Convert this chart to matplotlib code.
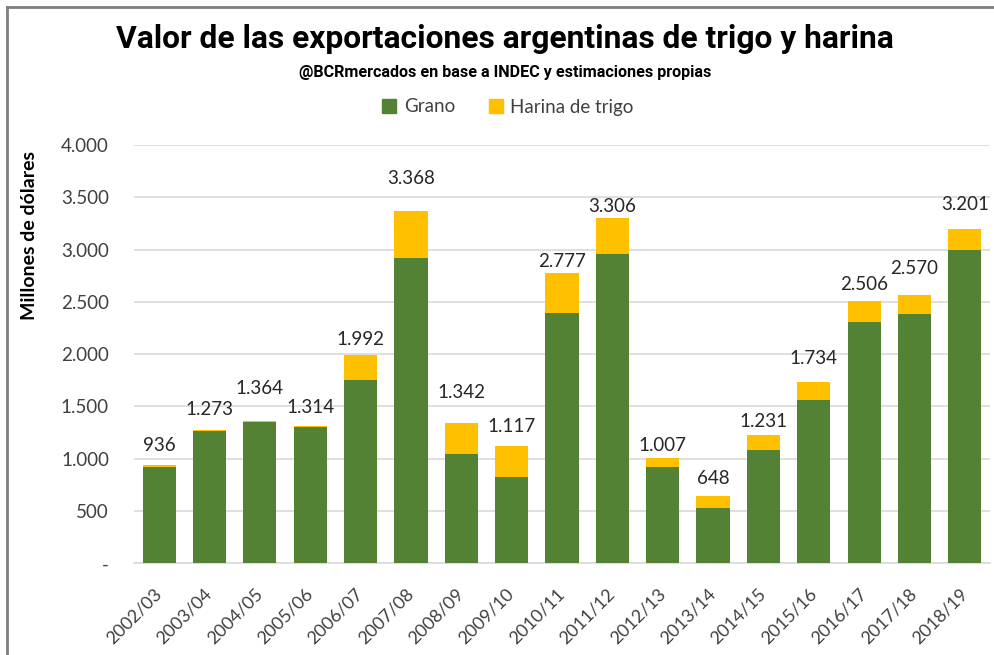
import numpy as np
from matplotlib import pyplot as plt
from matplotlib.lines import Line2D
from matplotlib.patches import Patch
from matplotlib.ticker import FuncFormatter

campanias = ['2002/03', '2003/04', '2004/05', '2005/06', '2006/07', '2007/08',
             '2008/09', '2009/10', '2010/11', '2011/12', '2012/13', '2013/14',
             '2014/15', '2015/16', '2016/17', '2017/18', '2018/19']
grano = [922, 1262, 1355, 1300, 1750, 2916, 1042, 828, 2396, 2954,
         924, 526, 1083, 1561, 2304, 2381, 2995]
harina = [14, 11, 9, 14, 242, 452, 300, 289, 381, 352,
          83, 122, 148, 173, 202, 189, 206]

# separacion (en pixeles) entre la barra y su etiqueta, como en el original
label_gap = [11, 12, 24, 10, 7, 24, 22, 11, 3, 3, 4, 9, 5, 15, 8, 18, 16]

verde = '#548235'
amarillo = '#FFC000'
fuente = 'Lato'

fig = plt.figure(figsize=(9.95, 6.55), dpi=100)
ax = fig.add_axes([134/995, 1-563.3/655, 856/995, (563.3-145)/655])

x = np.arange(len(campanias))
total = np.array(grano) + np.array(harina)
ax.bar(x, grano, width=0.66, color=verde, zorder=3)
ax.bar(x, harina, width=0.66, bottom=grano, color=amarillo, zorder=3)

for i, t in enumerate(total):
    ax.annotate('{:,}'.format(int(t)).replace(',', '.'), (x[i], t),
                xytext=(0, label_gap[i]*0.72), textcoords='offset points',
                ha='center', va='bottom', fontsize=13.5, family=fuente,
                color='#262626')

ax.set_xlim(-0.5, len(campanias)-0.5)
ax.set_ylim(0, 4000)
ax.set_yticks(np.arange(0, 4001, 500))
ax.yaxis.set_major_formatter(FuncFormatter(
    lambda v, p: '-' if v == 0 else '{:,}'.format(int(v)).replace(',', '.')))
ax.grid(axis='y', color='#d9d9d9', linewidth=1.2, zorder=0)
for s in ['top', 'right', 'left']:
    ax.spines[s].set_visible(False)
ax.spines['bottom'].set_color('#d9d9d9')
ax.spines['bottom'].set_linewidth(1.2)
ax.tick_params(axis='y', length=0, pad=18, labelsize=13.5, labelcolor='#404040')
ax.tick_params(axis='x', length=0, pad=20, labelsize=13, labelcolor='#404040')
ax.set_xticks(x)
ax.set_xticklabels(campanias, rotation=45, ha='right', va='center',
                   rotation_mode='anchor')
for lab in ax.get_xticklabels() + ax.get_yticklabels():
    lab.set_family(fuente)

fig.text(0.507, 1-39/655, 'Valor de las exportaciones argentinas de trigo y harina',
         ha='center', va='center', fontsize=22.9, fontweight='bold',
         family='Roboto')
fig.text(0.508, 1-73/655, '@BCRmercados en base a INDEC y estimaciones propias',
         ha='center', va='center', fontsize=11.6, fontweight='bold',
         family='Roboto')
fig.text(30/995, 1-235/655, 'Millones de dólares', rotation=90, ha='center',
         va='center', fontsize=14, fontweight='bold', family=fuente)

handles = [Patch(color=verde, label='Grano'), Patch(color=amarillo, label='Harina de trigo')]
leg = fig.legend(handles=handles, loc='center', bbox_to_anchor=(508/995, 1-107/655),
                 ncol=2, frameon=False, handlelength=0.75, handleheight=0.75,
                 handletextpad=0.4, columnspacing=1.8,
                 prop={'family': fuente, 'size': 13.5})
for t in leg.get_texts():
    t.set_color('#404040')

# marco gris del grafico original
fig.add_artist(Line2D([7/995, 7/995], [0, 1-7/655], color='#7f7f7f', linewidth=2))
fig.add_artist(Line2D([7/995, 1], [1-7/655, 1-7/655], color='#7f7f7f', linewidth=2))

fig.savefig('out.png', dpi=100)
